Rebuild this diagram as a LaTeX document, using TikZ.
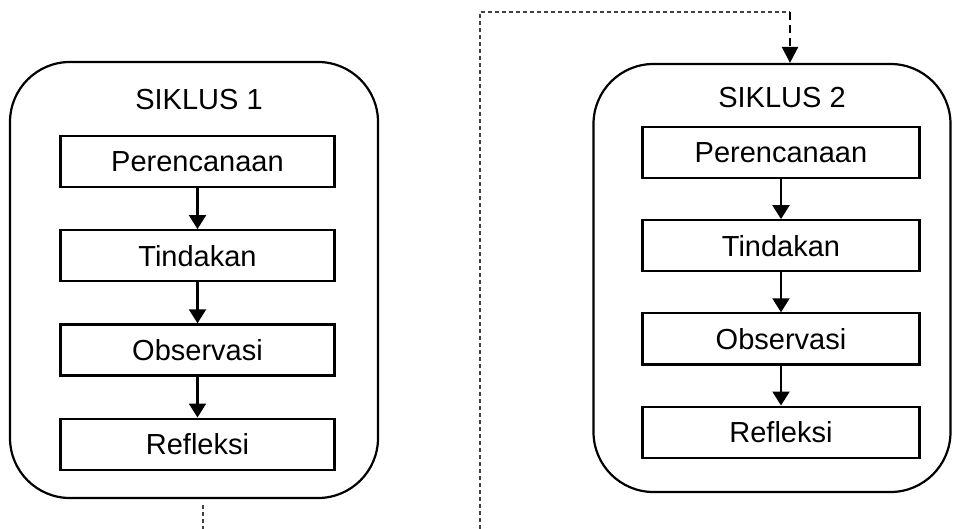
\documentclass[tikz,border=0pt]{standalone}
\usepackage{fontspec}
\setmainfont{Liberation Sans}
\usetikzlibrary{arrows.meta,positioning}
\tikzset{
    cycle-box/.style = {draw, rectangle, rounded corners=30pt, line width=1.1pt},
    step-box/.style = {draw, rectangle, line width=1.1pt, minimum width=137pt, minimum height=25.5pt, inner sep=0pt},
    step-arrow/.style = {-{Triangle[width=8.5pt,length=7pt]}, line width=1.1pt},
    loop-line/.style = {draw=black!75, line width=0.6pt, dash pattern=on 2pt off 1.5pt},
    loop-arrow/.style = {line width=1.2pt, dash pattern=on 4pt off 2.5pt, -{Triangle[width=8pt,length=8pt]}},
}

\begin{document}
\begin{tikzpicture}[x=0.5pt, y=-0.5pt, font=\fontsize{14.5}{17}\selectfont]
\useasboundingbox (0,0) rectangle (953,529);

% siklus 1
\node[cycle-box, minimum width=184pt, minimum height=218pt] (siklus1) at (194,280) {};
\node (title1) at (199,100) {SIKLUS 1};
\node[step-box] (plan1) at (197.5,161.5) {Perencanaan};
\node[step-box, below=20.5pt of plan1] (act1) {Tindakan};
\node[step-box, below=20.5pt of act1] (obs1) {Observasi};
\node[step-box, below=20.5pt of obs1] (refl1) {Refleksi};
\draw[step-arrow] (plan1) -- (act1);
\draw[step-arrow] (act1) -- (obs1);
\draw[step-arrow] (obs1) -- (refl1);

% siklus 2
\node[cycle-box, minimum width=178.5pt, minimum height=214pt] (siklus2) at (772,278) {};
\node (title2) at (782,98) {SIKLUS 2};
\node[step-box, minimum width=138.5pt] (plan2) at (781,152.5) {Perencanaan};
\node[step-box, minimum width=138.5pt, below=20pt of plan2] (act2) {Tindakan};
\node[step-box, minimum width=138.5pt, below=20pt of act2] (obs2) {Observasi};
\node[step-box, minimum width=138.5pt, below=20pt of obs2] (refl2) {Refleksi};
\draw[step-arrow] (plan2) -- (act2);
\draw[step-arrow] (act2) -- (obs2);
\draw[step-arrow] (obs2) -- (refl2);

% loop from siklus 1 to siklus 2
\coordinate (out1) at (203,505);
\coordinate (cut1) at (203,529);
\coordinate (cut2) at (480,529);
\coordinate (top-left) at (480,12);
\coordinate (top-right) at (790,12);
\draw[loop-line] (out1) -- (cut1);
\draw[loop-line] (cut2) -- (top-left) -- (top-right);
\draw[loop-arrow] (top-right) -- (top-right |- siklus2.north);
\end{tikzpicture}
\end{document}
